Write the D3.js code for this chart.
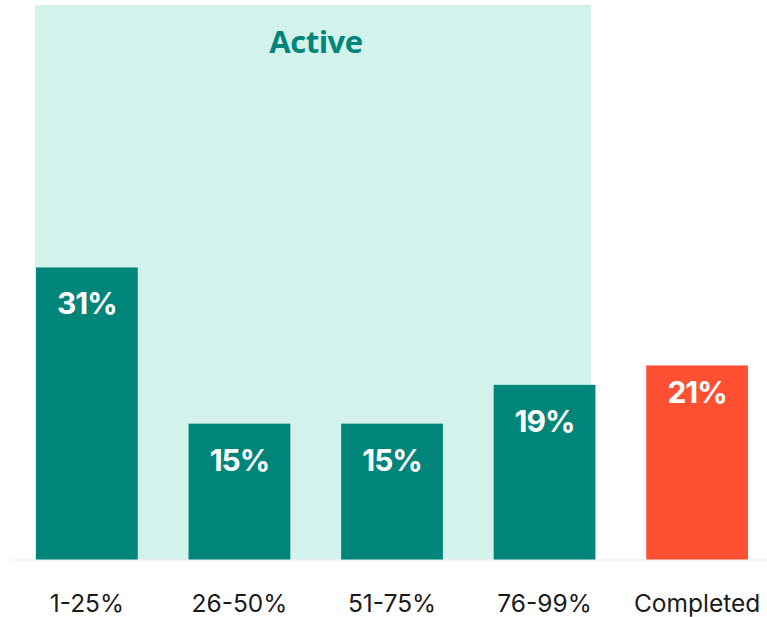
<!DOCTYPE html>
<html>
<head>
<meta charset="utf-8">
<script src="https://cdn.jsdelivr.net/npm/d3@7"></script>
<style>
  body { margin: 0; background: #fff; }
  .cat-label { font-family: Inter, "Noto Sans", sans-serif; font-size: 24.5px; fill: #1a1a1a; }
  .val-label { font-family: Inter, "Noto Sans", sans-serif; font-size: 30px; font-weight: 700; fill: #fff; letter-spacing: -1px; }
  .group-label { font-family: "Open Sans", sans-serif; font-size: 31px; font-weight: 700; fill: #00857a; letter-spacing: -0.5px; }
</style>
</head>
<body>
<script>
// Chart data
let categories = ["1-25%", "26-50%", "51-75%", "76-99%", "Completed"];
let values = [31.6, 14.7, 14.7, 18.9, 21.0];
let valueLabels = ["31%", "15%", "15%", "19%", "21%"];
let groups = ["Active", "Active", "Active", "Active", "Completed"];

// SVG size
let svgWidth = 767;
let svgHeight = 617;

let svg = d3.select("body")
    .append("svg")
    .attr("width", svgWidth)
    .attr("height", svgHeight);

// Scales
let xScale = d3.scaleBand()
    .domain(categories)
    .range([36, 748])
    .paddingInner(0.333)
    .paddingOuter(0);

let yScale = d3.scaleLinear()
    .domain([0, 60])
    .range([559.5, 5]);

let colors = { Active: "#00857a", Completed: "#ff5033" };

// Shaded "Active" region behind the active bars
let activeCats = categories.filter((c, i) => groups[i] === "Active");
let shadeLeft = xScale(activeCats[0]) - 1;
let shadeRight = xScale(activeCats[activeCats.length - 1]) + xScale.bandwidth() - 4.5;

svg.append("rect")
    .attr("x", shadeLeft)
    .attr("y", yScale(60))
    .attr("width", shadeRight - shadeLeft)
    .attr("height", yScale(0) - yScale(60))
    .attr("fill", "#d4f2ec");

svg.append("text")
    .attr("class", "group-label")
    .attr("x", (shadeLeft + shadeRight) / 2 + 3)
    .attr("y", 53)
    .attr("text-anchor", "middle")
    .text("Active");

// Baseline
svg.append("line")
    .attr("x1", 11)
    .attr("x2", svgWidth)
    .attr("y1", yScale(0) + 0.5)
    .attr("y2", yScale(0) + 0.5)
    .attr("stroke", "#e8e8e8")
    .attr("stroke-width", 1);

// Bars
let data = categories.map((c, i) => ({ cat: c, value: values[i], label: valueLabels[i], group: groups[i] }));

svg.selectAll(".bar")
    .data(data)
    .enter()
    .append("rect")
    .attr("class", "bar")
    .attr("x", d => xScale(d.cat))
    .attr("y", d => yScale(d.value))
    .attr("width", xScale.bandwidth())
    .attr("height", d => yScale(0) - yScale(d.value))
    .attr("fill", d => colors[d.group]);

// Value labels inside bars
svg.selectAll(".val-label")
    .data(data)
    .enter()
    .append("text")
    .attr("class", "val-label")
    .attr("x", d => xScale(d.cat) + xScale.bandwidth() / 2)
    .attr("y", d => yScale(d.value) + (d.group === "Active" ? 47 : 38))
    .attr("text-anchor", "middle")
    .text(d => d.label);

// Category labels under the axis
let xAxis = d3.axisBottom(xScale).tickSize(0).tickPadding(0);
let axisGroup = svg.append("g")
    .attr("transform", `translate(0, ${yScale(0)})`)
    .call(xAxis);
axisGroup.select(".domain").remove();
axisGroup.selectAll("text")
    .attr("class", "cat-label")
    .attr("dy", null)
    .attr("y", 52)
    .attr("font-size", null)
    .attr("font-family", null)
    .attr("fill", null);
axisGroup.attr("font-size", null).attr("font-family", null);
</script>
</body>
</html>
